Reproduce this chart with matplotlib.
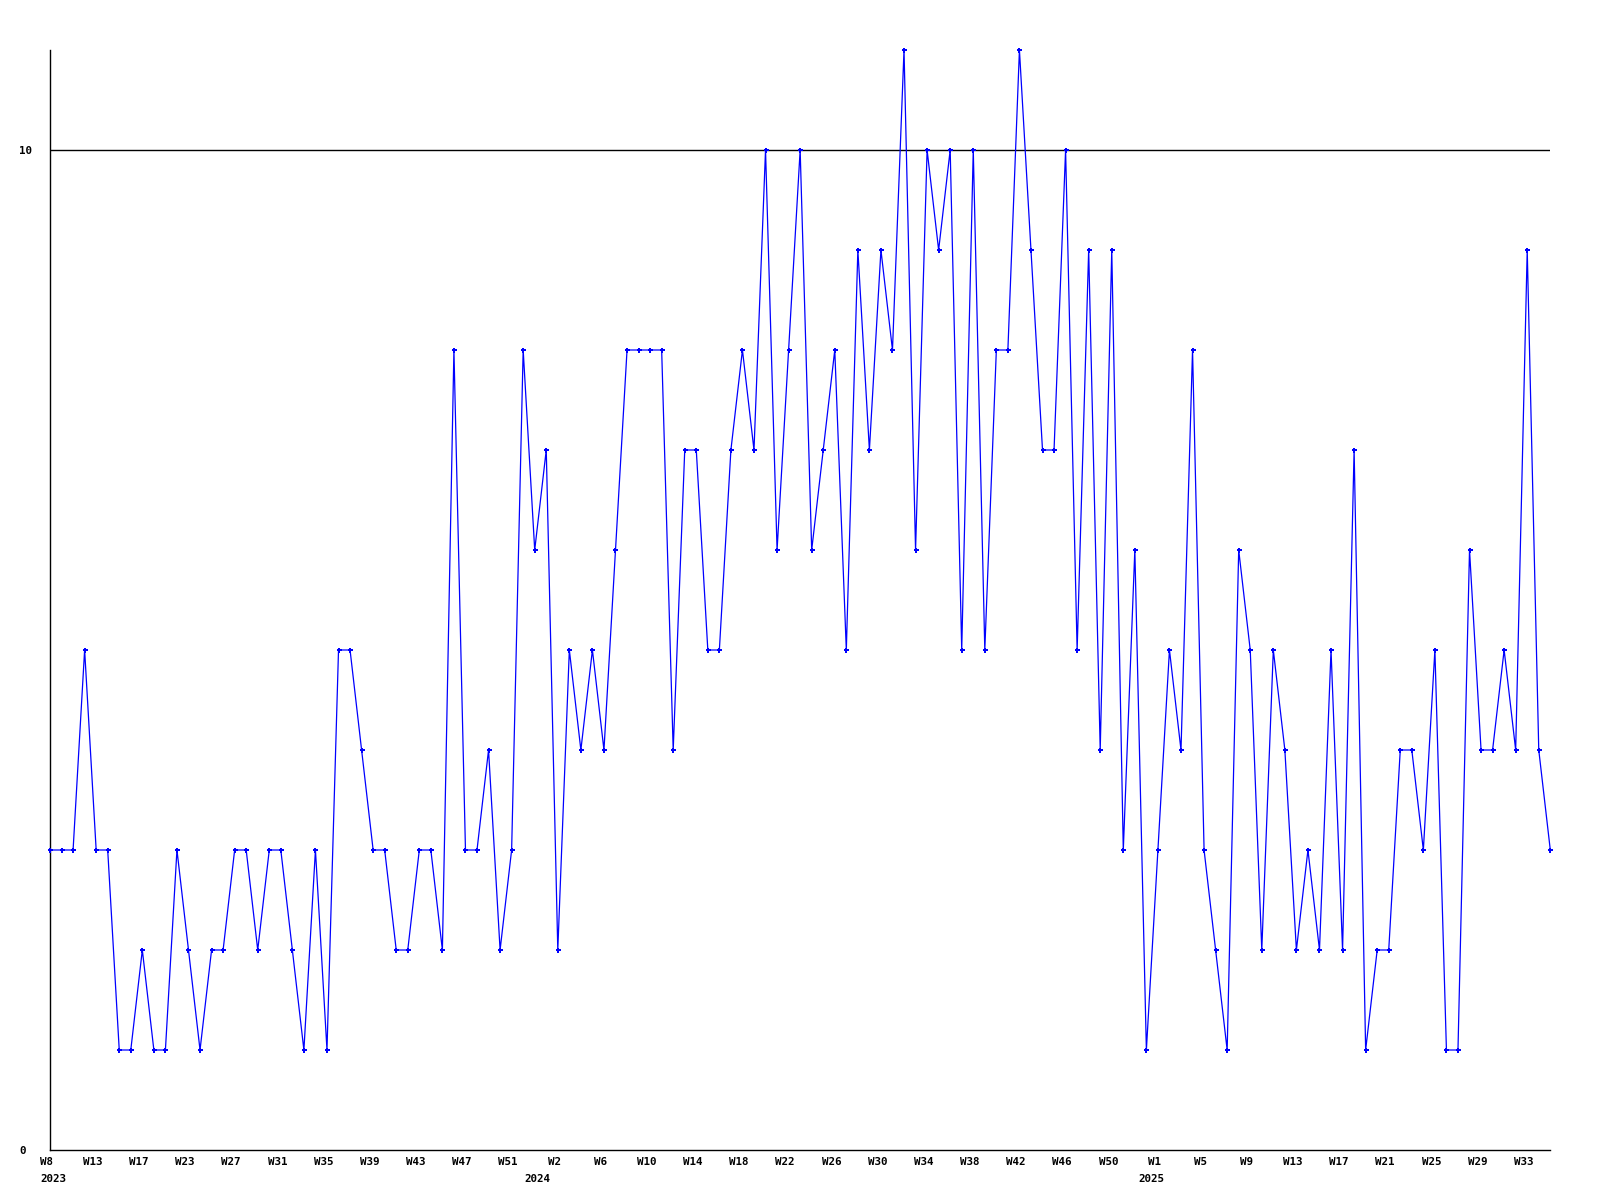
import matplotlib
matplotlib.use("Agg")
import matplotlib.pyplot as plt
from matplotlib.transforms import ScaledTranslation

# Weekly values (one point per week present in the data)
values = [3, 3, 3, 5, 3, 3, 1, 1, 2, 1,
          1, 3, 2, 1, 2, 2, 3, 3, 2, 3,
          3, 2, 1, 3, 1, 5, 5, 4, 3, 3,
          2, 2, 3, 3, 2, 8, 3, 3, 4, 2,
          3, 8, 6, 7, 2, 5, 4, 5, 4, 6,
          8, 8, 8, 8, 4, 7, 7, 5, 5, 7,
          8, 7, 10, 6, 8, 10, 6, 7, 8, 5,
          9, 7, 9, 8, 11, 6, 10, 9, 10, 5,
          10, 5, 8, 8, 11, 9, 7, 7, 10, 5,
          9, 4, 9, 3, 6, 1, 3, 5, 4, 8,
          3, 2, 1, 6, 5, 2, 5, 4, 2, 3,
          2, 5, 2, 7, 1, 2, 2, 4, 4, 3,
          5, 1, 1, 6, 4, 4, 5, 4, 9, 4,
          3]

# Tick labels, one every 4 points
week_labels = ["W8", "W13", "W17", "W23", "W27", "W31", "W35", "W39", "W43",
               "W47", "W51", "W2", "W6", "W10", "W14", "W18", "W22", "W26",
               "W30", "W34", "W38", "W42", "W46", "W50", "W1", "W5", "W9",
               "W13", "W17", "W21", "W25", "W29", "W33"]
tick_step = 4

year_labels = ["2023", "2024", "2025"]
year_positions = [0.3, 42.2, 95.4]

y_ticks = [0, 10]

fig = plt.figure(figsize=(16, 12), dpi=100)
ax = fig.add_axes([50 / 1600, 50 / 1200, 1500.3 / 1600, 1100 / 1200])

xs = list(range(len(values)))
ax.plot(xs, values, color="#0000ff", linewidth=0.9, marker="P",
        markersize=3.6, markeredgewidth=0, clip_on=False, zorder=3)

ax.set_xlim(0, len(values) - 1)
ax.set_ylim(0, 11)

for s in ["top", "right"]:
    ax.spines[s].set_visible(False)
for s in ["left", "bottom"]:
    ax.spines[s].set_color("black")
    ax.spines[s].set_linewidth(1.0)

font = dict(family="DejaVu Sans Mono", weight="bold", size=7.8)

ax.set_yticks(y_ticks)
ax.set_yticklabels([str(v) for v in y_ticks], **font)
ax.tick_params(axis="y", length=0, pad=22)
for lab in ax.get_yticklabels():
    lab.set_horizontalalignment("left")
for v in y_ticks:
    if v > 0:
        ax.axhline(v, color="black", linewidth=1.0, zorder=1)

tick_pos = [i * tick_step for i in range(len(week_labels))]
ax.set_xticks(tick_pos)
ax.set_xticklabels(week_labels, **font)
ax.tick_params(axis="x", length=0, pad=5)
shift = ScaledTranslation(-3.5 / 100, 0, fig.dpi_scale_trans)
for lab in ax.get_xticklabels():
    lab.set_transform(lab.get_transform() + shift)

for lab, pos in zip(year_labels, year_positions):
    ax.text(pos, -0.245, lab, ha="center", va="top", **font)

fig.savefig("out.png", dpi=100, facecolor="white")
